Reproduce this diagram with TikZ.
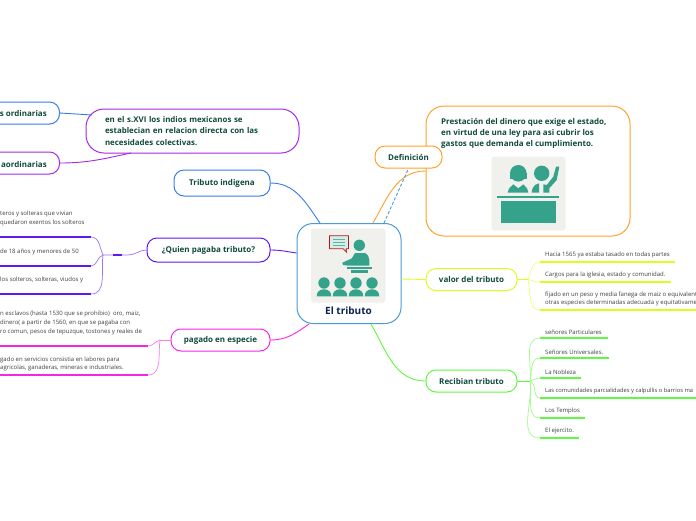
\documentclass[tikz,border=0pt]{standalone}
\usepackage{fontspec}
\setmainfont{Open Sans}
\definecolor{inktxt}{HTML}{0F4A3C}
\definecolor{inkroot}{HTML}{0D2350}
\definecolor{teal}{HTML}{35A28C}
\definecolor{paper}{HTML}{F0F0EC}
\definecolor{croot}{HTML}{4A9BD8}
\definecolor{cblue}{HTML}{3A7BF0}
\definecolor{cpurp}{HTML}{A828E8}
\definecolor{cviol}{HTML}{5F18F0}
\definecolor{cmag}{HTML}{F428E4}
\definecolor{cora}{HTML}{FFA228}
\definecolor{cyel}{HTML}{D8FF20}
\definecolor{cgrn}{HTML}{60F840}
\begin{document}
\begin{tikzpicture}[
        x=1pt, y=-1pt,
        topic/.style={draw=#1, line width=1pt, fill=white, rounded corners=10pt, align=center,
            text=inktxt, font=\fontsize{8}{10}\selectfont\bfseries, inner sep=0pt},
        cuttxt/.style={text=inktxt, font=\fontsize{8}{10}\selectfont\bfseries, inner sep=0pt, anchor=east},
        leaf/.style={anchor=south west, align=left, text=black!75, inner xsep=#1, inner ysep=3.5pt,
            font=\fontsize{6}{8.8}\selectfont},
        leaf/.default=5pt,
        link/.style={draw=#1, line width=0.9pt},
        sublink/.style={draw=#1!60, line width=0.7pt},
        under/.style={draw=#1, line width=1.4pt}
    ]
    \useasboundingbox (0,0) rectangle (696,520);
    \fill[white] (0,0) rectangle (696,520);

    % main box
    \node[draw=croot, line width=1pt, fill=white, rounded corners=16pt, minimum width=104pt, minimum height=100pt, inner sep=0pt] (root) at (349,273.5) {};
    \node[font=\fontsize{10}{12}\selectfont\bfseries, text=inkroot, inner sep=0pt] (roottxt) at (348.5,311) {El tributo};

    % first level
    \node[topic=cblue, minimum width=96pt, minimum height=26pt] (ind) at (222,183) {Tributo indigena};
    \node[topic=cviol, minimum width=123pt, minimum height=24pt] (quien) at (208.5,250) {¿Quien pagaba tributo?};
    \node[topic=cmag, minimum width=99pt, minimum height=22pt] (esp) at (220.5,340) {pagado en especie};
    \node[topic=cyel, minimum width=91pt, minimum height=22pt] (valor) at (471.5,279.5) {valor del tributo};
    \node[topic=cgrn, minimum width=91pt, minimum height=22pt] (rec) at (471.5,381) {Recibian tributo};

    % top left
    \node[topic=cpurp, rounded corners=18pt, minimum width=213pt, minimum height=44pt, text width=175pt, align=left, font=\fontsize{7.9}{11.4}\selectfont\bfseries] (colect) at (192.5,131) {en el s.XVI los indios mexicanos se\\establecian en relacion directa con las\\necesidades colectivas.};
    \node[topic=cblue, minimum width=70pt, minimum height=22pt, anchor=east] (ord) at (60,113) {};
    \node[topic=cpurp, minimum width=70pt, minimum height=22pt, anchor=east] (ext) at (60,163) {};
    \node[cuttxt] (ordtxt) at (47,113) {s ordinarias};
    \node[cuttxt] (exttxt) at (47,164) {aordinarias};
    \coordinate (ordend) at (92,115);
    \coordinate (extend) at (131,153);

    % definition box
    \node[draw=cora, line width=1pt, fill=white, rounded corners=18pt, minimum width=204pt, minimum height=130pt, inner sep=0pt] (defbox) at (528,171) {};
    \node[topic=cora, minimum width=67pt, minimum height=22pt] (def) at (408.5,157) {Definición};
    \node[anchor=north west, align=left, text=inktxt, font=\fontsize{8}{11}\selectfont\bfseries, inner sep=0pt] (deftxt) at (441,118.5) {Prestación del dinero que exige el estado,\\en virtud de una ley para asi cubrir los\\gastos que demanda el cumplimiento.};

    % leaves on the left
    \node[leaf=0pt] (q1) at (0,237) {teros y solteras que vivian\\quedaron exentos los solteros\\~};
    \node[leaf=0pt] (q2) at (0,266) {de 18 años y menores de 50\\~};
    \node[leaf=0pt] (q3) at (0,294) {los solteros, solteras, viudos y\\~};
    \node[leaf=0pt] (e1) at (0,346) {n esclavos (hasta 1530 que se prohibio)~ oro, maiz,\\dinero( a partir de 1560, en que se pagaba con\\ro comun, pesos de tepuzque, tostones y reales de\\~};
    \node[leaf=0pt] (e2) at (0,375) {gado en servicios consistia en labores para\\agricolas, ganaderas, mineras e industriales.};
    \coordinate (q1end) at (91,237);
    \coordinate (q2end) at (91,266);
    \coordinate (q3end) at (91,294);
    \coordinate (e1end) at (148,346);
    \coordinate (e2end) at (148,375);
    \coordinate (qfork) at (103,255);
    \coordinate (efork) at (160,340);

    % leaves on the right
    \node[leaf] (v1) at (540,262) {Hacia 1565 ya estaba tasado en todas partes};
    \node[leaf] (v2) at (540,282) {Cargos para la iglesia, estado y comunidad.};
    \node[leaf] (v3) at (540,310) {fijado en un peso y media fanega de maiz o equivalent\\otras especies determinadas adecuada y equitativame};
    \node[leaf] (r1) at (540,338) {señores Particulares};
    \node[leaf] (r2) at (540,358) {Señores Universales.};
    \node[leaf] (r3) at (540,378) {La Nobleza};
    \node[leaf, font=\fontsize{5.8}{8.8}\selectfont] (r4) at (540,398) {Las comunidades parcialidades y calpullis o barrios ma};
    \node[leaf] (r5) at (540,418) {Los Templos};
    \node[leaf] (r6) at (540,438) {El ejercito.};
    \coordinate (vfork) at (528,279.5);
    \coordinate (rfork) at (530,381);

    % links
    \draw[link=cblue] (ind.east) to[out=0,in=125] (root.north -| 320,0);
    \draw[link=cviol] (quien.east) to[out=0,in=172] (root.west |- 0,253);
    \draw[link=cmag] (esp.east) to[out=0,in=-145] (root.south -| 309,0);
    \draw[link=cyel] (root.east |- 0,279) -- (valor.west);
    \draw[link=cgrn] (root.south -| 371,0) to[out=-60,in=180] (rec.west);
    \draw[link=cora] (root.north -| 373,0) to[out=60,in=180] (defbox.west |- 0,171);
    \draw[link=croot, densely dashed] (root.north -| 384,0) -- (def.south);
    \draw[link=cblue] (ord.east) -- (ordend);
    \draw[link=cpurp] (ext.east) to[out=0,in=-168] (extend);

    % links to the leaves
    \draw[sublink=cviol] (quien.west) to[out=180,in=0] (128,255) -- (qfork);
    \draw[link=cviol, line width=1.3pt] (113,255) -- (122,255);
    \foreach \leafend/\ang in {q1end/115,q2end/195,q3end/262}
        \draw[sublink=cviol] (qfork) to[out=\ang,in=0] (\leafend);
    \draw[under=cviol] (q1.south west) -- (q1end);
    \draw[under=cviol] (q2.south west) -- (q2end);
    \draw[under=cviol] (q3.south west) -- (q3end);
    \draw[sublink=cmag] (esp.west) -- (efork);
    \foreach \leafend/\ang in {e1end/195,e2end/262}
        \draw[sublink=cmag] (efork) to[out=\ang,in=0] (\leafend);
    \draw[under=cmag] (e1.south west) -- (e1end);
    \draw[under=cmag] (e2.south west) -- (e2end);
    \draw[link=cyel] (valor.east) -- (vfork);
    \foreach \leaf/\ang in {v1/70,v2/-10,v3/-75}
        \draw[sublink=cyel] (vfork) to[out=\ang,in=180] (\leaf.south west);
    \draw[under=cyel] (v1.south west) -- ++(135,0);
    \draw[under=cyel] (v2.south west) -- ++(131,0);
    \draw[under=cyel] (v3.south west) -- ++(160,0);
    \draw[link=cgrn] (rec.east) -- (rfork);
    \foreach \leaf/\ang in {r1/82,r2/78,r3/20,r4/-20,r5/-78,r6/-82}
        \draw[sublink=cgrn] (rfork) to[out=\ang,in=180] (\leaf.south west);
    \draw[under=cgrn] (r1.south west) -- ++(68,0);
    \draw[under=cgrn] (r2.south west) -- ++(69,0);
    \draw[under=cgrn] (r3.south west) -- ++(41,0);
    \draw[under=cgrn] (r4.south west) -- ++(160,0);
    \draw[under=cgrn] (r5.south west) -- ++(45,0);
    \draw[under=cgrn] (r6.south west) -- ++(39,0);

    % teacher picture
    \fill[paper, rounded corners=3pt] (311,228.5) rectangle (385.5,302.5);
    \draw[draw=red!70!black!90, line width=0.8pt, fill=teal!20] (329.5,235.7) -- (348.5,235.7) -- (348.5,248.7) -- (346,248.7) -- (346.5,252) -- (343,248.7) -- (329.5,248.7) -- cycle;
    \foreach \yy in {239,242,245}
        \draw[teal!80, line width=0.8pt] (333,\yy) -- (345,\yy);
    \fill[teal] (359.3,245.3) circle (5.7);
    \fill[teal] (342.3,262.7) -- (351.7,258.5) -- (355,253) -- (365,253) .. controls (368,255) and (369.3,257) .. (369.3,260) -- (369.3,265.7) -- (349,265.7) -- (343,265) -- cycle;
    \fill[teal] (347.3,266.5) rectangle (371.7,268.7);
    \fill[teal] (350.7,270.3) rectangle (368.3,273);
    \foreach \xx in {324,340,356,372} {
        \fill[teal] (\xx,283) circle (5.7);
        \fill[teal] (\xx-7.3,296.3) .. controls (\xx-7.3,291.5) and (\xx-4,289.3) .. (\xx,289.3) .. controls (\xx+4,289.3) and (\xx+7.3,291.5) .. (\xx+7.3,296.3) -- cycle;
    }

    % class picture
    \fill[paper, rounded corners=3pt] (491.5,156.7) rectangle (565.5,230.7);
    \fill[teal] (518.3,173.3) circle (8.3);
    \fill[teal] (510,173.3) rectangle (526.6,179);
    \fill[teal] (507.7,192.7) .. controls (508.3,189) and (510.5,186) .. (513.3,184.3) -- (518.3,188.3) -- (523.3,184.3) .. controls (526,186) and (527.8,189) .. (528.3,192.7) -- cycle;
    \fill[teal] (541.7,173.3) circle (7.7);
    \fill[teal] (531.7,192.7) .. controls (532,189) and (533,186.5) .. (535,185) -- (539,183.3) -- (539,192.7) -- cycle;
    \fill[teal] (543.3,192.7) -- (543.3,184.3) -- (546.7,185) -- (553.3,176.7) -- (556,166.7) -- (559.3,166.7) -- (556.7,180) -- (549.3,188.3) -- (549.3,192.7) -- cycle;
    \fill[teal] (496.7,195.7) rectangle (559.3,197.7);
    \fill[teal] (500.7,200.7) rectangle (555.7,223.3);
\end{tikzpicture}
\end{document}
